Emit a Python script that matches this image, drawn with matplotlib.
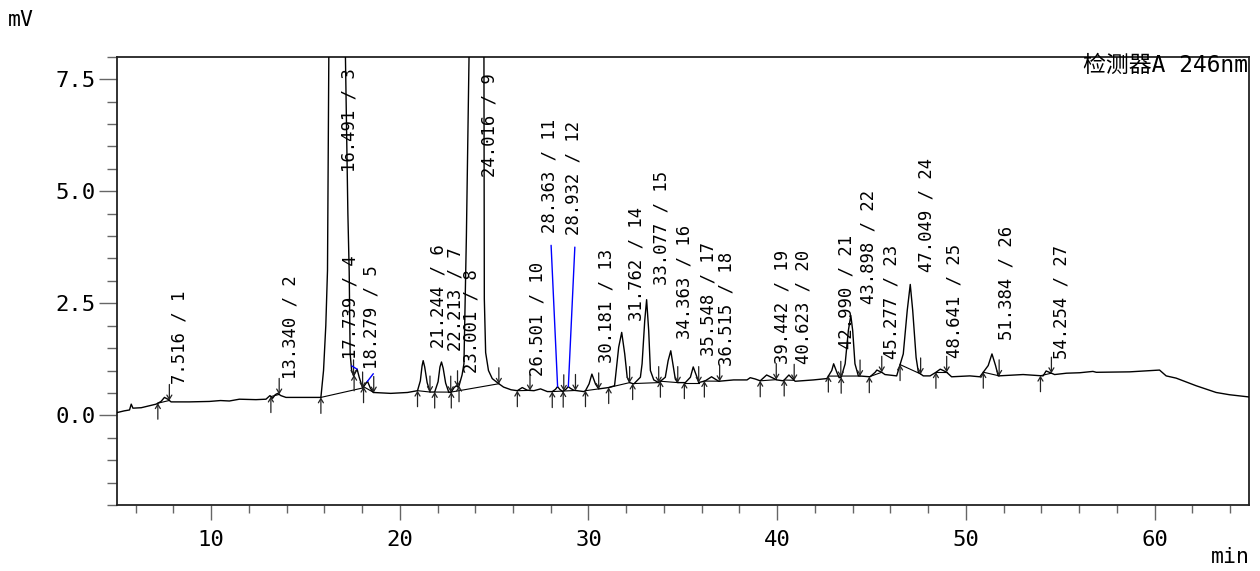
import numpy as np
import matplotlib
matplotlib.use("Agg")
import matplotlib.pyplot as plt
from matplotlib.ticker import MultipleLocator, FixedLocator, FormatStrFormatter
from matplotlib.transforms import offset_copy

# ---------------- data ----------------
time_min = [5.00, 5.40, 5.68, 5.77, 5.86, 6.30, 6.80, 7.09, 7.35, 7.53, 7.71, 7.88, 8.85, 9.91,
            10.50, 10.97, 11.50, 12.38, 12.91, 13.12, 13.26, 13.40, 13.53, 13.70, 13.97, 14.85,
            15.65, 15.82, 15.96, 16.08, 16.17, 16.24, 16.30, 16.49, 16.90, 17.12, 17.25, 17.32,
            17.37, 17.45, 17.55, 17.74, 17.85, 18.03, 18.29, 18.45, 18.60, 19.52, 20.41, 20.94,
            21.09, 21.18, 21.24, 21.32, 21.45, 21.60, 21.85, 22.03, 22.13, 22.21, 22.30, 22.43,
            22.60, 22.73, 22.88, 23.00, 23.08, 23.14, 23.30, 23.40, 23.53, 23.67, 23.75, 24.02,
            24.30, 24.46, 24.48, 24.55, 24.70, 24.90, 25.20, 25.50, 25.90, 26.23, 26.49, 26.76,
            27.11, 27.46, 27.82, 28.08, 28.25, 28.36, 28.48, 28.63, 28.80, 28.93, 29.05, 29.22,
            29.75, 29.84, 30.03, 30.18, 30.37, 30.54, 31.07, 31.38, 31.43, 31.60, 31.76, 31.92,
            32.05, 32.18, 32.40, 32.75, 32.84, 32.98, 33.08, 33.19, 33.28, 33.46, 33.72, 34.07,
            34.22, 34.36, 34.46, 34.60, 34.73, 35.13, 35.40, 35.55, 35.75, 35.84, 36.19, 36.52,
            36.90, 37.69, 38.40, 38.57, 38.84, 39.10, 39.44, 39.98, 40.33, 40.62, 40.95, 41.92,
            42.63, 42.89, 42.99, 43.16, 43.28, 43.39, 43.60, 43.77, 43.90, 44.00, 44.12, 44.30,
            44.92, 45.19, 45.28, 45.54, 45.71, 46.33, 46.68, 46.89, 47.05, 47.18, 47.36, 47.48,
            47.74, 48.10, 48.41, 48.64, 48.80, 48.98, 49.24, 50.21, 50.74, 51.18, 51.38, 51.57,
            51.71, 53.03, 54.09, 54.25, 54.70, 55.33, 56.03, 56.73, 56.91, 58.67, 60.26, 60.61,
            61.14, 62.20, 63.26, 63.96, 65.00]
signal_mv = [0.06, 0.10, 0.12, 0.25, 0.16, 0.17, 0.22, 0.25, 0.31, 0.40, 0.36, 0.30, 0.30, 0.31,
             0.33, 0.32, 0.36, 0.35, 0.36, 0.44, 0.38, 0.46, 0.49, 0.44, 0.40, 0.40,
             0.40, 0.40, 1.00, 2.00, 3.23, 8.00, 14.0, 30.0, 14.0, 8.00, 4.50, 3.20,
             1.37, 1.00, 0.88, 1.03, 0.85, 0.61, 0.76, 0.60, 0.51, 0.49, 0.51, 0.55,
             0.77, 1.10, 1.22, 1.08, 0.73, 0.52, 0.52, 0.75, 1.08, 1.19, 1.05, 0.72,
             0.51, 0.52, 0.62, 0.66, 0.63, 0.66, 0.90, 1.15, 4.00, 8.00, 12.0, 40.0,
             12.0, 8.00, 2.60, 1.40, 1.00, 0.82, 0.72, 0.63, 0.57, 0.55, 0.62, 0.56,
             0.55, 0.59, 0.53, 0.53, 0.58, 0.64, 0.58, 0.53, 0.58, 0.64, 0.60, 0.56,
             0.53, 0.55, 0.70, 0.92, 0.70, 0.59, 0.62, 0.66, 0.85, 1.52, 1.85, 1.37,
             0.85, 0.73, 0.70, 0.85, 1.15, 2.11, 2.58, 1.89, 1.00, 0.79, 0.73, 0.85,
             1.22, 1.44, 1.18, 0.81, 0.73, 0.73, 0.85, 1.08, 0.85, 0.73, 0.77, 0.86,
             0.76, 0.79, 0.79, 0.84, 0.81, 0.77, 0.90, 0.79, 0.77, 0.90, 0.76, 0.79,
             0.82, 1.00, 1.15, 0.96, 0.84, 0.85, 1.15, 1.89, 2.23, 1.89, 1.15, 0.88,
             0.86, 0.96, 1.01, 0.96, 0.91, 0.88, 1.37, 2.34, 2.92, 2.34, 1.29, 0.96,
             0.88, 0.88, 0.96, 1.03, 1.00, 0.96, 0.86, 0.88, 0.86, 1.11, 1.37, 1.11,
             0.88, 0.91, 0.88, 0.99, 0.91, 0.94, 0.95, 0.98, 0.96, 0.97, 1.01, 0.88,
             0.83, 0.66, 0.51, 0.46, 0.41]

peak_rt = [7.516, 13.340, 16.491, 17.739, 18.279, 21.244, 22.213, 23.001, 24.016, 26.501,
           28.363, 28.932, 30.181, 31.762, 33.077, 34.363, 35.548, 36.515, 39.442, 40.623,
           42.990, 43.898, 45.277, 47.049, 48.641, 51.384, 54.254]
peak_start = [7.18, 13.17, 15.82, 17.58, 18.08, 20.94, 21.85, 22.73, 23.14, 26.23, 28.08, 28.66,
              29.84, 31.07, 32.34, 33.81, 35.08, 36.14, 39.10, 40.37, 42.71, 43.39, 44.88,
              46.51, 48.41, 50.92, 53.95]
peak_end = [7.79, 13.61, 17.55, 18.03, 18.62, 21.60, 22.70, 23.06, 25.25, 26.90, 28.69, 29.31,
            30.54, 32.18, 33.72, 34.73, 35.84, 36.95, 39.95, 40.90, 43.37, 44.39, 45.54,
            47.60, 48.98, 51.76, 54.53]
baseline_groups = [(7.18, 7.79), (13.17, 13.61), (15.82, 18.03), (18.08, 18.62), (20.94, 21.60),
                   (21.85, 22.70), (22.73, 25.25), (26.23, 26.90), (28.08, 29.31), (29.84, 30.54),
                   (31.07, 32.18), (32.34, 33.72), (33.81, 34.73), (35.08, 35.84), (36.14, 36.95),
                   (39.10, 39.95), (40.37, 40.90), (42.71, 44.39), (44.88, 45.54), (46.51, 47.60),
                   (48.41, 48.98), (50.92, 51.76), (53.95, 54.53)]

x_ticks = [10, 20, 30, 40, 50, 60]
y_ticks = [0.0, 2.5, 5.0, 7.5]
detector_text = "检测器A 246nm"

# ---------------- layout (label placement) ----------------
label_bottom = [0.70, 0.82, 5.43, 1.26, 1.04, 1.51, 1.44, 0.95, 5.31, 0.88, 4.06, 4.02, 1.17,
                2.11, 2.90, 1.71, 1.33, 1.11, 1.15, 1.15, 1.49, 2.49, 1.26, 3.19, 1.29, 1.67, 1.26]
label_dx = [6, 7, 7, -16, -4.5, 6, 5, 6, 5, 6, -17, -4, 6, 6, 6, 5, 6, 6, 7, 6, 4, 9, 6, 7, 5, 5, 6]
leader_ids = {4: 7, 5: 5, 11: 12, 12: 12}   # peak id -> gap (px) below label

# ---------------- figure ----------------
W, H = 1260, 571
fig = plt.figure(figsize=(W / 100, H / 100), dpi=100)
ax_l, ax_r, ax_t, ax_b = 116.7, 1249, 56.7, 505
ax = fig.add_axes([ax_l / W, 1 - ax_b / H, (ax_r - ax_l) / W, (ax_b - ax_t) / H])

mono = "DejaVu Sans Mono"
t_arr = np.array(time_min)
s_arr = np.array(signal_mv)

ax.plot(t_arr, s_arr, color="black", lw=1.0, zorder=3)

# integration baselines
for a, b in baseline_groups:
    ax.plot([a, b], [np.interp(a, t_arr, s_arr), np.interp(b, t_arr, s_arr)],
            color="black", lw=0.8, zorder=2)

arrow_kw = dict(arrowstyle="->,head_length=0.3,head_width=0.18", lw=0.9, color="#222222",
                shrinkA=0, shrinkB=0)
for ts in peak_start:
    ax.annotate("", xy=(ts, np.interp(ts, t_arr, s_arr)), xytext=(0, -16),
                textcoords="offset pixels", arrowprops=arrow_kw, zorder=4)
for te in peak_end:
    ax.annotate("", xy=(te, np.interp(te, t_arr, s_arr)), xytext=(0, 16),
                textcoords="offset pixels", arrowprops=arrow_kw, zorder=4)

for i, (rt, yb, dx) in enumerate(zip(peak_rt, label_bottom, label_dx), start=1):
    tr = offset_copy(ax.transData, fig=fig, x=dx, y=0, units="dots")
    ax.text(rt, yb, f"{rt:.3f} / {i}", rotation=90, ha="left", va="bottom",
            transform=tr, fontsize=12.4, family=mono, color="black", zorder=5)
    if i in leader_ids:
        gap = leader_ids[i]
        tr2 = offset_copy(ax.transData, fig=fig, x=dx + 10.5, y=-gap, units="dots")
        ax.annotate("", xy=(rt, np.interp(rt, t_arr, s_arr)), xycoords="data",
                    xytext=(rt, yb), textcoords=tr2,
                    arrowprops=dict(arrowstyle="-", color="blue", lw=1.0,
                                    shrinkA=0, shrinkB=0), zorder=4)

ax.set_xlim(5, 65)
ax.set_ylim(-2, 8)
ax.xaxis.set_major_locator(FixedLocator(x_ticks))
ax.xaxis.set_minor_locator(MultipleLocator(2))
ax.yaxis.set_major_locator(FixedLocator(y_ticks))
ax.yaxis.set_minor_locator(MultipleLocator(0.5))
ax.yaxis.set_major_formatter(FormatStrFormatter("%.1f"))
ax.xaxis.set_major_formatter(FormatStrFormatter("%d"))

for sp in ax.spines.values():
    sp.set_color("#222222")
    sp.set_linewidth(1.3)
ax.tick_params(axis="x", which="major", direction="out", length=11, width=1.0,
               color="#666666", pad=7, labelsize=16)
ax.tick_params(axis="x", which="minor", direction="out", length=6, width=1.0, color="#666666")
ax.tick_params(axis="y", which="major", direction="out", length=13, width=1.0,
               color="#666666", pad=2, labelsize=16)
ax.tick_params(axis="y", which="minor", direction="out", length=7, width=1.0, color="#666666")
for lab in ax.get_xticklabels() + ax.get_yticklabels():
    lab.set_family(mono)

fig.text(8 / W, 1 - 20 / H, "mV", ha="left", va="center", fontsize=15.5, family=mono)
fig.text(1250 / W, 1 - 557 / H, "min", ha="right", va="center", fontsize=15.5, family=mono)
fig.text(1248 / W, 1 - 65 / H, detector_text, ha="right", va="center", fontsize=16.5,
         family=[mono, "Noto Sans CJK SC"])

fig.savefig("out.png", dpi=100)
